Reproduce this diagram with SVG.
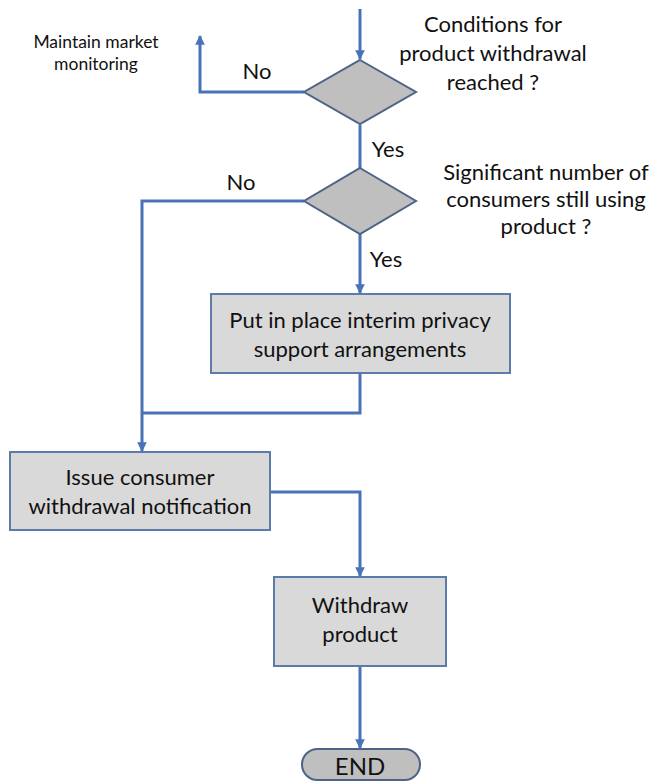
<svg xmlns="http://www.w3.org/2000/svg" width="651" height="783" viewBox="0 0 651 783">
  <style>
    .lbl { font-family: Lato, "Open Sans", "Liberation Sans", sans-serif; fill: #111; text-anchor: middle; }
    .t20 { font-size: 22px; }
    .t15 { font-size: 17.5px; }
    .conn { fill: none; stroke: #4a72b8; stroke-width: 3; }
    .box { fill: #d9d9d9; stroke: #5b7bab; stroke-width: 2; }
    .dia { fill: #bfbfbf; stroke: #4e6385; stroke-width: 2; }
  </style>
  <defs>
    <marker id="arrow" viewBox="0 0 10 10" refX="9" refY="5" markerWidth="3.2" markerHeight="3.2" orient="auto" markerUnits="strokeWidth">
      <path d="M0,0 L10,5 L0,10 z" fill="#4a72b8"/>
    </marker>
  </defs>
  <rect width="651" height="783" fill="#ffffff"/>

  <!-- connectors -->
  <g id="connectors">
    <path class="conn" d="M360,9 V59" marker-end="url(#arrow)"/>
    <path class="conn" d="M304,92 H200 V36" marker-end="url(#arrow)"/>
    <path class="conn" d="M360,125 V168"/>
    <path class="conn" d="M360,233 V293" marker-end="url(#arrow)"/>
    <path class="conn" d="M304,201 H142 V451" marker-end="url(#arrow)"/>
    <path class="conn" d="M360,373 V413 H142"/>
    <path class="conn" d="M271,492 H360 V576" marker-end="url(#arrow)"/>
    <path class="conn" d="M360,666 V748" marker-end="url(#arrow)"/>
    <text class="lbl t20" x="257" y="79">No</text>
    <text class="lbl t20" x="388" y="157">Yes</text>
    <text class="lbl t20" x="241" y="190">No</text>
    <text class="lbl t20" x="386" y="267">Yes</text>
  </g>

  <!-- outcome when no withdrawal -->
  <g id="monitor">
    <text class="lbl t15" x="96" y="48">Maintain market</text>
    <text class="lbl t15" x="96" y="70">monitoring</text>
  </g>

  <!-- decision: conditions reached -->
  <g id="decision-conditions">
    <polygon class="dia" points="360,60 416,92 360,124 304,92"/>
    <text class="lbl t20" x="493" y="32">Conditions for</text>
    <text class="lbl t20" x="493" y="61">product withdrawal</text>
    <text class="lbl t20" x="493" y="90">reached ?</text>
  </g>

  <!-- decision: consumers still using -->
  <g id="decision-consumers">
    <polygon class="dia" points="360,168 416,201 360,234 304,201"/>
    <text class="lbl t20" x="546" y="180">Significant number of</text>
    <text class="lbl t20" x="546" y="207">consumers still using</text>
    <text class="lbl t20" x="546" y="234">product ?</text>
  </g>

  <g id="interim-privacy">
    <rect class="box" x="211" y="294" width="299" height="79"/>
    <text class="lbl t20" x="360" y="328">Put in place interim privacy</text>
    <text class="lbl t20" x="360" y="357">support arrangements</text>
  </g>

  <g id="notification">
    <rect class="box" x="10" y="452" width="260" height="78"/>
    <text class="lbl t20" x="140" y="485">Issue consumer</text>
    <text class="lbl t20" x="140" y="514">withdrawal notification</text>
  </g>

  <g id="withdraw">
    <rect class="box" x="274" y="577" width="172" height="89"/>
    <text class="lbl t20" x="360" y="613">Withdraw</text>
    <text class="lbl t20" x="360" y="642">product</text>
  </g>

  <g id="end">
    <rect x="302" y="749" width="118" height="31" rx="15.5" fill="#bfbfbf" stroke="#4e6385" stroke-width="2"/>
    <text class="lbl" x="360" y="775" font-size="24px">END</text>
  </g>
</svg>
